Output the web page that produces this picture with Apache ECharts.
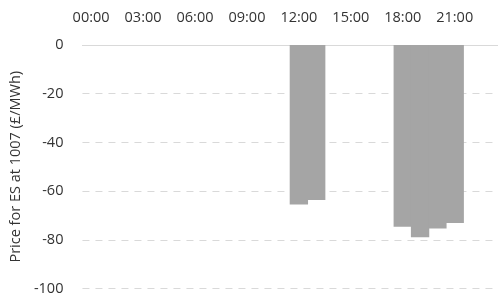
<!DOCTYPE html>
<html>
<head>
<meta charset="utf-8">
<script src="https://cdn.jsdelivr.net/npm/echarts@6/dist/echarts.min.js"></script>
<style>
  html, body { margin: 0; padding: 0; background: #fff; }
  #chart { width: 498px; height: 296px; }
</style>
</head>
<body>
<div id="chart"></div>
<script>
// hourly periods
var hours = ["00:00", "01:00", "02:00", "03:00", "04:00", "05:00", "06:00", "07:00",
  "08:00", "09:00", "10:00", "11:00", "12:00", "13:00", "14:00", "15:00",
  "16:00", "17:00", "18:00", "19:00", "20:00", "21:00", "22:00", "23:00"];
// price for ES at 1007 (£/MWh), blank where no price
var price = [null, null, null, null, null, null, null, null,
  null, null, null, null, -65.5, -63.7, null, null,
  null, null, -74.6, -79, -75.4, -73.1, null, null];

var myChart = echarts.init(document.getElementById("chart"));
var font = "'Open Sans', 'Liberation Sans', sans-serif";
var textColor = "#333333";

var option = {
  animation: false,
  grid: {
    top: 45,
    left: 82,
    right: 0,
    bottom: 5
  },
  xAxis: {
    type: "category",
    position: "top",
    data: hours,
    axisTick: { show: false },
    axisLine: {
      show: true,
      lineStyle: { color: "#d9d9d9", width: 1 }
    },
    axisLabel: {
      interval: 2,
      color: textColor,
      fontSize: 14.5,
      fontFamily: font,
      margin: 20
    }
  },
  yAxis: {
    type: "value",
    min: -100,
    max: 0,
    interval: 20,
    name: "Price for ES at 1007 (£/MWh)",
    nameLocation: "middle",
    nameGap: 57,
    nameTextStyle: {
      color: textColor,
      fontSize: 14.5,
      fontFamily: font
    },
    axisLine: { show: false },
    axisTick: { show: false },
    axisLabel: {
      color: textColor,
      fontSize: 14.5,
      fontFamily: font,
      margin: 19
    },
    splitLine: {
      show: true,
      lineStyle: {
        color: "#d9d9d9",
        type: [7, 6],
        width: 1
      }
    }
  },
  series: [
    {
      type: "bar",
      data: price,
      barWidth: "106%",
      itemStyle: {
        color: "#a5a5a5"
      }
    }
  ]
};

myChart.setOption(option);
</script>
</body>
</html>
